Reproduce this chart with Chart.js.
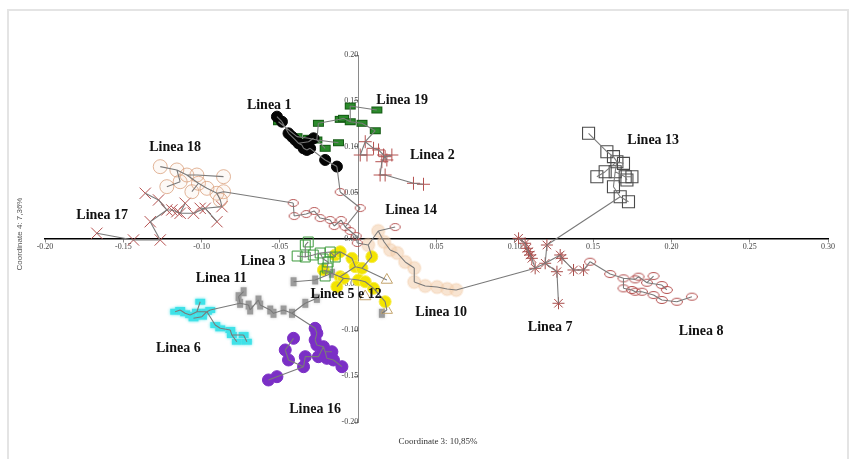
<!DOCTYPE html>
<html>
<head>
<meta charset="utf-8">
<script src="https://cdn.jsdelivr.net/npm/chart.js@4.4.1/dist/chart.umd.min.js"></script>
<style>
  html, body { margin: 0; padding: 0; background: #fff; }
  canvas { display: block; }
</style>
</head>
<body>
<canvas id="pcoa" width="855" height="459"></canvas>
<script>
// PCoA, coordinate 3 vs coordinate 4. Each line: [coord3, coord4] per individual,
// plus a parent index per point for the minimum spanning tree (-1 = no parent).
const LINEA_1 = [[-0.0519,0.1328],[-0.0487,0.1273],[-0.0445,0.1146],[-0.0423,0.1110],[-0.0402,0.1074],[-0.0381,0.1038],[-0.0360,0.1019],[-0.0349,0.0983],[-0.0328,0.0965],[-0.0307,0.0983],[-0.0317,0.1055],[-0.0285,0.1092],[-0.0211,0.0856],[-0.0136,0.0784]];
const TREE_1 = [-1,0,1,2,3,4,5,6,7,8,5,10,9,12];

const LINEA_19 = [[-0.0509,0.1273],[-0.0391,0.1110],[-0.0317,0.1092],[-0.0264,0.1074],[-0.0254,0.1256],[-0.0211,0.0983],[-0.0126,0.1044],[-0.0115,0.1299],[-0.0094,0.1310],[0.0119,0.1401],[-0.0051,0.1444],[-0.0051,0.1273],[0.0024,0.1256],[0.0109,0.1175]];
const TREE_19 = [-1,0,1,2,3,3,3,4,7,10,11,8,11,12];

const LINEA_2 = [[0.0045,0.1055],[0.0013,0.0910],[0.0056,0.0910],[0.0098,0.0983],[0.0130,0.0965],[0.0162,0.0910],[0.0172,0.0892],[0.0183,0.0856],[0.0215,0.0910],[0.0151,0.0837],[0.0140,0.0692],[0.0172,0.0692],[0.0353,0.0602],[0.0417,0.0591]];
const TREE_2 = [-1,0,1,0,3,4,5,6,6,6,9,10,11,12];

const LINEA_13 = [[0.1471,0.1147],[0.1588,0.0946],[0.1630,0.0892],[0.1652,0.0837],[0.1694,0.0819],[0.1577,0.0728],[0.1524,0.0673],[0.1641,0.0728],[0.1705,0.0673],[0.1748,0.0673],[0.1716,0.0637],[0.1630,0.0564],[0.1673,0.0455],[0.1726,0.0400]];
const TREE_13 = [-1,0,1,2,3,3,5,3,7,8,8,7,11,12];

const LINEA_7 = [[0.1024,0.0002],[0.1066,-0.0052],[0.1077,-0.0107],[0.1088,-0.0144],[0.1098,-0.0180],[0.1109,-0.0216],[0.1130,-0.0325],[0.1194,-0.0270],[0.1205,-0.0071],[0.1290,-0.0180],[0.1301,-0.0216],[0.1269,-0.0362],[0.1279,-0.0706],[0.1375,-0.0343],[0.1439,-0.0343]];
const TREE_7 = [-1,0,1,2,3,4,5,6,7,7,9,7,11,10,13];

const LINEA_8 = [[0.1481,-0.0253],[0.1609,-0.0387],[0.1694,-0.0434],[0.1769,-0.0445],[0.1790,-0.0416],[0.1844,-0.0482],[0.1886,-0.0409],[0.1694,-0.0543],[0.1748,-0.0561],[0.1769,-0.0580],[0.1812,-0.0580],[0.1939,-0.0507],[0.1971,-0.0561],[0.1886,-0.0616],[0.1939,-0.0670],[0.2035,-0.0689],[0.2131,-0.0634]];
const TREE_8 = [-1,0,1,2,3,4,5,2,7,8,9,5,11,10,13,14,15];

const LINEA_14 = [[-0.0415,0.0387],[-0.0409,0.0245],[-0.0332,0.0267],[-0.0281,0.0300],[-0.0243,0.0223],[-0.0179,0.0202],[-0.0153,0.0136],[-0.0109,0.0202],[-0.0083,0.0125],[-0.0051,0.0082],[-0.0013,0.0027],[-0.0006,-0.0049],[0.0013,0.0332],[-0.0115,0.0507],[0.0236,0.0125]];
const TREE_14 = [-1,0,1,2,3,4,5,6,7,8,9,10,8,12,-1];

const LINEA_18 = [[-0.1264,0.0783],[-0.1222,0.0565],[-0.1137,0.0619],[-0.1158,0.0747],[-0.1094,0.0692],[-0.1030,0.0692],[-0.0860,0.0674],[-0.1062,0.0510],[-0.1020,0.0602],[-0.0966,0.0547],[-0.0902,0.0493],[-0.0860,0.0510],[-0.0881,0.0420]];
const TREE_18 = [-1,2,3,0,3,4,5,8,4,8,9,10,10];

const LINEA_17 = [[-0.1669,0.0057],[-0.1435,-0.0016],[-0.1264,-0.0016],[-0.1328,0.0183],[-0.1222,0.0311],[-0.1190,0.0311],[-0.1158,0.0292],[-0.1137,0.0275],[-0.1052,0.0275],[-0.0977,0.0329],[-0.0870,0.0347],[-0.1360,0.0493],[-0.1275,0.0420],[-0.1105,0.0384],[-0.1009,0.0329],[-0.0902,0.0183]];
const TREE_17 = [-1,0,1,2,3,4,5,6,7,8,9,12,4,7,9,9];

const LINEA_3 = [[-0.0338,-0.0071],[-0.0319,-0.0038],[-0.0390,-0.0191],[-0.0338,-0.0202],[-0.0287,-0.0180],[-0.0243,-0.0158],[-0.0179,-0.0147],[-0.0147,-0.0202],[-0.0224,-0.0223],[-0.0192,-0.0256],[-0.0198,-0.0322],[-0.0211,-0.0409]];
const TREE_3 = [1,-1,3,0,3,4,5,6,5,8,9,10];

const LINEA_5 = [[-0.0147,-0.0180],[-0.0115,-0.0144],[-0.0040,-0.0216],[-0.0019,-0.0307],[0.0024,-0.0325],[0.0087,-0.0198],[-0.0222,-0.0343],[-0.0115,-0.0416],[-0.0094,-0.0434],[-0.0136,-0.0525],[0.0002,-0.0452],[0.0045,-0.0471],[0.0098,-0.0543],[0.0172,-0.0689]];
const TREE_5 = [-1,0,1,2,3,4,7,3,7,8,8,10,11,12];

const LINEA_12 = [[0.0183,-0.0452],[0.0045,-0.0632],[0.0183,-0.0780]];
const TREE_12 = [-1,-1,-1];

const LINEA_11 = [[-0.0732,-0.0580],[-0.0764,-0.0634],[-0.0754,-0.0706],[-0.0700,-0.0725],[-0.0690,-0.0779],[-0.0637,-0.0670],[-0.0626,-0.0725],[-0.0562,-0.0779],[-0.0541,-0.0815],[-0.0477,-0.0779],[-0.0423,-0.0815],[-0.0338,-0.0706],[-0.0264,-0.0652],[-0.0413,-0.0471],[-0.0275,-0.0452],[-0.0168,-0.0379],[0.0151,-0.0815]];
const TREE_11 = [1,-1,1,2,3,4,5,6,7,8,9,10,11,-1,13,14,-1];

const LINEA_6 = [[-0.1169,-0.0798],[-0.1137,-0.0779],[-0.1105,-0.0815],[-0.1073,-0.0834],[-0.1009,-0.0689],[-0.1030,-0.0798],[-0.0966,-0.0798],[-0.0945,-0.0779],[-0.0998,-0.0852],[-0.1052,-0.0870],[-0.0913,-0.0943],[-0.0881,-0.0979],[-0.0817,-0.0997],[-0.0807,-0.1052],[-0.0732,-0.1052],[-0.0711,-0.1125],[-0.0775,-0.1125]];
const TREE_6 = [-1,0,1,2,5,3,5,6,6,8,6,10,11,12,13,14,13];

const LINEA_16 = [[-0.0275,-0.0979],[-0.0264,-0.1033],[-0.0275,-0.1106],[-0.0264,-0.1161],[-0.0222,-0.1179],[-0.0211,-0.1234],[-0.0168,-0.1234],[-0.0200,-0.1306],[-0.0158,-0.1324],[-0.0104,-0.1397],[-0.0413,-0.1088],[-0.0466,-0.1215],[-0.0445,-0.1324],[-0.0338,-0.1288],[-0.0349,-0.1397],[-0.0519,-0.1506],[-0.0573,-0.1542],[-0.0254,-0.1288]];
const TREE_16 = [-1,0,1,2,3,4,5,5,7,8,11,12,14,17,13,14,15,4];

const LINEA_10 = [[0.0064,-0.0071],[0.0128,0.0082],[0.0166,-0.0038],[0.0204,-0.0125],[0.0249,-0.0158],[0.0300,-0.0256],[0.0358,-0.0322],[0.0358,-0.0474],[0.0428,-0.0518],[0.0504,-0.0529],[0.0568,-0.0550],[0.0626,-0.0561]];
const TREE_10 = [-1,0,1,2,3,4,5,6,7,8,9,10];

// tree edges joining different lines: [line, point, line, point]
const LINKS = [
  ['L1',13,'L14',13], ['L19',13,'L2',0], ['L18',11,'L14',0], ['L17',10,'L18',12],
  ['L14',14,'L10',1], ['L14',11,'L10',0], ['L10',11,'L7',6], ['L13',12,'L7',8],
  ['L7',14,'L8',0], ['L3',7,'L5',0], ['L5',4,'L12',0], ['L5',13,'L12',2],
  ['L12',2,'L11',16], ['L6',7,'L11',2], ['L11',10,'L16',0], ['L11',15,'L3',11],
  ['L5',5,'L10',0]
];

// text labels placed in data units
const LABEL_TEXT = ['Linea 1','Linea 19','Linea 2','Linea 18','Linea 17','Linea 14','Linea 13','Linea 3','Linea 11','Linee 5 e 12','Linea 10','Linea 6','Linea 7','Linea 8','Linea 16'];
const LABEL_X = [-0.0568, 0.0281, 0.0473, -0.1169, -0.1635, 0.0338, 0.1884, -0.0607, -0.0875, -0.0077, 0.0530, -0.1149, 0.1226, 0.2190, -0.0275];
const LABEL_Y = [0.1455, 0.1510, 0.0910, 0.0997, 0.0256, 0.0311, 0.1074, -0.0245, -0.0430, -0.0605, -0.0801, -0.1193, -0.0965, -0.1008, -0.1858];

const X_TITLE = 'Coordinate 3: 10,85%';
const Y_TITLE = 'Coordinate 4: 7,36%';

// ---- marker sprites ----
function boxMarker(w, h, fill, stroke, glow){
  const pad = glow ? 3 : 1;
  const c = document.createElement('canvas');
  c.width = w + pad*2; c.height = h + pad*2;
  const g = c.getContext('2d');
  if(glow){ g.shadowColor = glow; g.shadowBlur = 3; }
  g.fillStyle = fill;
  g.fillRect(pad, pad, w, h);
  g.shadowBlur = 0;
  if(stroke){ g.strokeStyle = stroke; g.lineWidth = 1; g.strokeRect(pad+0.5, pad+0.5, w-1, h-1); }
  return c;
}
function ovalMarker(w, h, stroke){
  const c = document.createElement('canvas');
  c.width = w + 2; c.height = h + 2;
  const g = c.getContext('2d');
  g.strokeStyle = stroke; g.lineWidth = 1;
  g.beginPath();
  g.ellipse(c.width/2, c.height/2, w/2 - 0.5, h/2 - 0.5, 0, 0, Math.PI*2);
  g.stroke();
  return c;
}

const RED = '#b5504f';
const LINES = {
  L1:  {pts: LINEA_1,  tree: TREE_1,  style: {pointStyle:'circle', pointRadius:5.5, backgroundColor:'#050505', borderColor:'#050505'}},
  L19: {pts: LINEA_19, tree: TREE_19, style: {pointStyle: boxMarker(11,7,'#2b8a2b','#145a14'), pointRadius:5}},
  L2:  {pts: LINEA_2,  tree: TREE_2,  style: {pointStyle:'cross', pointRadius:6.5, borderColor:RED, borderWidth:1}},
  L13: {pts: LINEA_13, tree: TREE_13, style: {pointStyle:'rect', pointRadius:8.5, borderColor:'#4a4a4a', borderWidth:1.1, backgroundColor:'rgba(0,0,0,0)'}},
  L7:  {pts: LINEA_7,  tree: TREE_7,  style: {pointStyle:'star', pointRadius:6, borderColor:'#a94c4a', borderWidth:1}},
  L8:  {pts: LINEA_8,  tree: TREE_8,  style: {pointStyle: ovalMarker(12,8,RED), pointRadius:5}},
  L14: {pts: LINEA_14, tree: TREE_14, style: {pointStyle: ovalMarker(11,8,RED), pointRadius:5}},
  L18: {pts: LINEA_18, tree: TREE_18, style: {pointStyle:'circle', pointRadius:7, borderColor:'rgba(214,150,110,0.7)', backgroundColor:'rgba(240,205,180,0.12)', borderWidth:1}},
  L17: {pts: LINEA_17, tree: TREE_17, style: {pointStyle:'crossRot', pointRadius:8, borderColor:RED, borderWidth:1}},
  L3:  {pts: LINEA_3,  tree: TREE_3,  style: {pointStyle:'rect', pointRadius:7, borderColor:'#3c9a3c', borderWidth:1, backgroundColor:'rgba(255,255,255,0)'}},
  L5:  {pts: LINEA_5,  tree: TREE_5,  style: {pointStyle:'circle', pointRadius:6, backgroundColor:'#f3e400', borderColor:'#f6ec50', borderWidth:1}},
  L12: {pts: LINEA_12, tree: TREE_12, style: {pointStyle:'triangle', pointRadius:6.5, borderColor:'#c3a36b', borderWidth:1, backgroundColor:'rgba(255,255,255,0)'}},
  L11: {pts: LINEA_11, tree: TREE_11, style: {pointStyle: boxMarker(6,9,'#9b9b9b',null,'rgba(150,150,150,0.5)'), pointRadius:5}},
  L6:  {pts: LINEA_6,  tree: TREE_6,  style: {pointStyle: boxMarker(10,6,'#3fe2e8',null,'rgba(60,225,232,0.9)'), pointRadius:5}},
  L16: {pts: LINEA_16, tree: TREE_16, style: {pointStyle:'circle', pointRadius:6, backgroundColor:'#7b2fc6', borderColor:'#7b2fc6'}},
  L10: {pts: LINEA_10, tree: TREE_10, style: {pointStyle:'circle', pointRadius:6.5, backgroundColor:'rgba(242,206,172,0.55)', borderColor:'rgba(242,206,172,0.3)', borderWidth:2}}
};

function pt(p){ return {x: p[0], y: p[1]}; }
const GAP = {x: NaN, y: NaN};

// spanning tree segments, broken with NaN gaps
const edgeData = [];
Object.values(LINES).forEach(l => {
  l.tree.forEach((par, i) => {
    if(par < 0) return;
    edgeData.push(pt(l.pts[i]), pt(l.pts[par]), GAP);
  });
});
LINKS.forEach(([a, i, b, j]) => {
  edgeData.push(pt(LINES[a].pts[i]), pt(LINES[b].pts[j]), GAP);
});

const datasets = Object.entries(LINES).map(([key, l], k) => Object.assign({
  label: key,
  data: l.pts.map(pt),
  showLine: false,
  order: 10 + k,
  backgroundColor: 'rgba(0,0,0,0)',
  borderWidth: 1
}, l.style));

datasets.push({
  label: 'tree',
  data: edgeData,
  showLine: true,
  spanGaps: false,
  pointRadius: 0,
  borderColor: '#7a7a7a',
  borderWidth: 1.1,
  order: 0
});

const decor = {
  id: 'decor',
  beforeDraw(chart){
    const ctx = chart.ctx;
    ctx.save();
    ctx.strokeStyle = '#e4e4e4';
    ctx.lineWidth = 2;
    ctx.strokeRect(8, 10, 840, 470);
    ctx.restore();
  },
  afterDraw(chart){
    const {ctx, scales:{x, y}} = chart;
    ctx.save();
    ctx.fillStyle = '#111';
    ctx.font = 'bold 14px "Liberation Serif", "Times New Roman", serif';
    ctx.textAlign = 'center';
    ctx.textBaseline = 'middle';
    LABEL_TEXT.forEach((t, i) => ctx.fillText(t, x.getPixelForValue(LABEL_X[i]), y.getPixelForValue(LABEL_Y[i])));

    ctx.fillStyle = '#333';
    ctx.font = '9px "Liberation Serif", serif';
    ctx.fillText(X_TITLE, 438, 442);
    ctx.translate(20, 234);
    ctx.rotate(-Math.PI/2);
    ctx.font = '8px "Liberation Sans", sans-serif';
    ctx.fillStyle = '#555';
    ctx.fillText(Y_TITLE, 0, 0);
    ctx.restore();
  }
};

const tickFont = {family: '"Liberation Serif", serif', size: 8};
const fmt = v => (Math.abs(v) < 1e-9 ? 0 : v).toFixed(2);

new Chart(document.getElementById('pcoa'), {
  type: 'scatter',
  data: { datasets },
  options: {
    responsive: false,
    animation: false,
    layout: { padding: { left: 45, right: 27, top: 55, bottom: 37 } },
    plugins: { legend: { display: false }, tooltip: { enabled: false } },
    scales: {
      x: {
        type: 'linear', position: { y: 0 }, min: -0.2, max: 0.3,
        border: { color: '#000', width: 1.5 },
        grid: { drawOnChartArea: false, drawTicks: true, tickLength: 3, color: '#888' },
        ticks: { stepSize: 0.05, font: tickFont, color: '#444', padding: 1, maxRotation: 0,
                 callback: v => Math.abs(v) < 1e-9 ? '' : fmt(v) }
      },
      y: {
        type: 'linear', position: { x: 0 }, min: -0.2, max: 0.2,
        border: { color: '#8a8a8a', width: 1 },
        grid: { drawOnChartArea: false, drawTicks: true, tickLength: 4, color: '#8a8a8a' },
        ticks: { stepSize: 0.05, font: tickFont, color: '#444', padding: 1, callback: v => fmt(v) }
      }
    }
  },
  plugins: [decor]
});
</script>
</body>
</html>
